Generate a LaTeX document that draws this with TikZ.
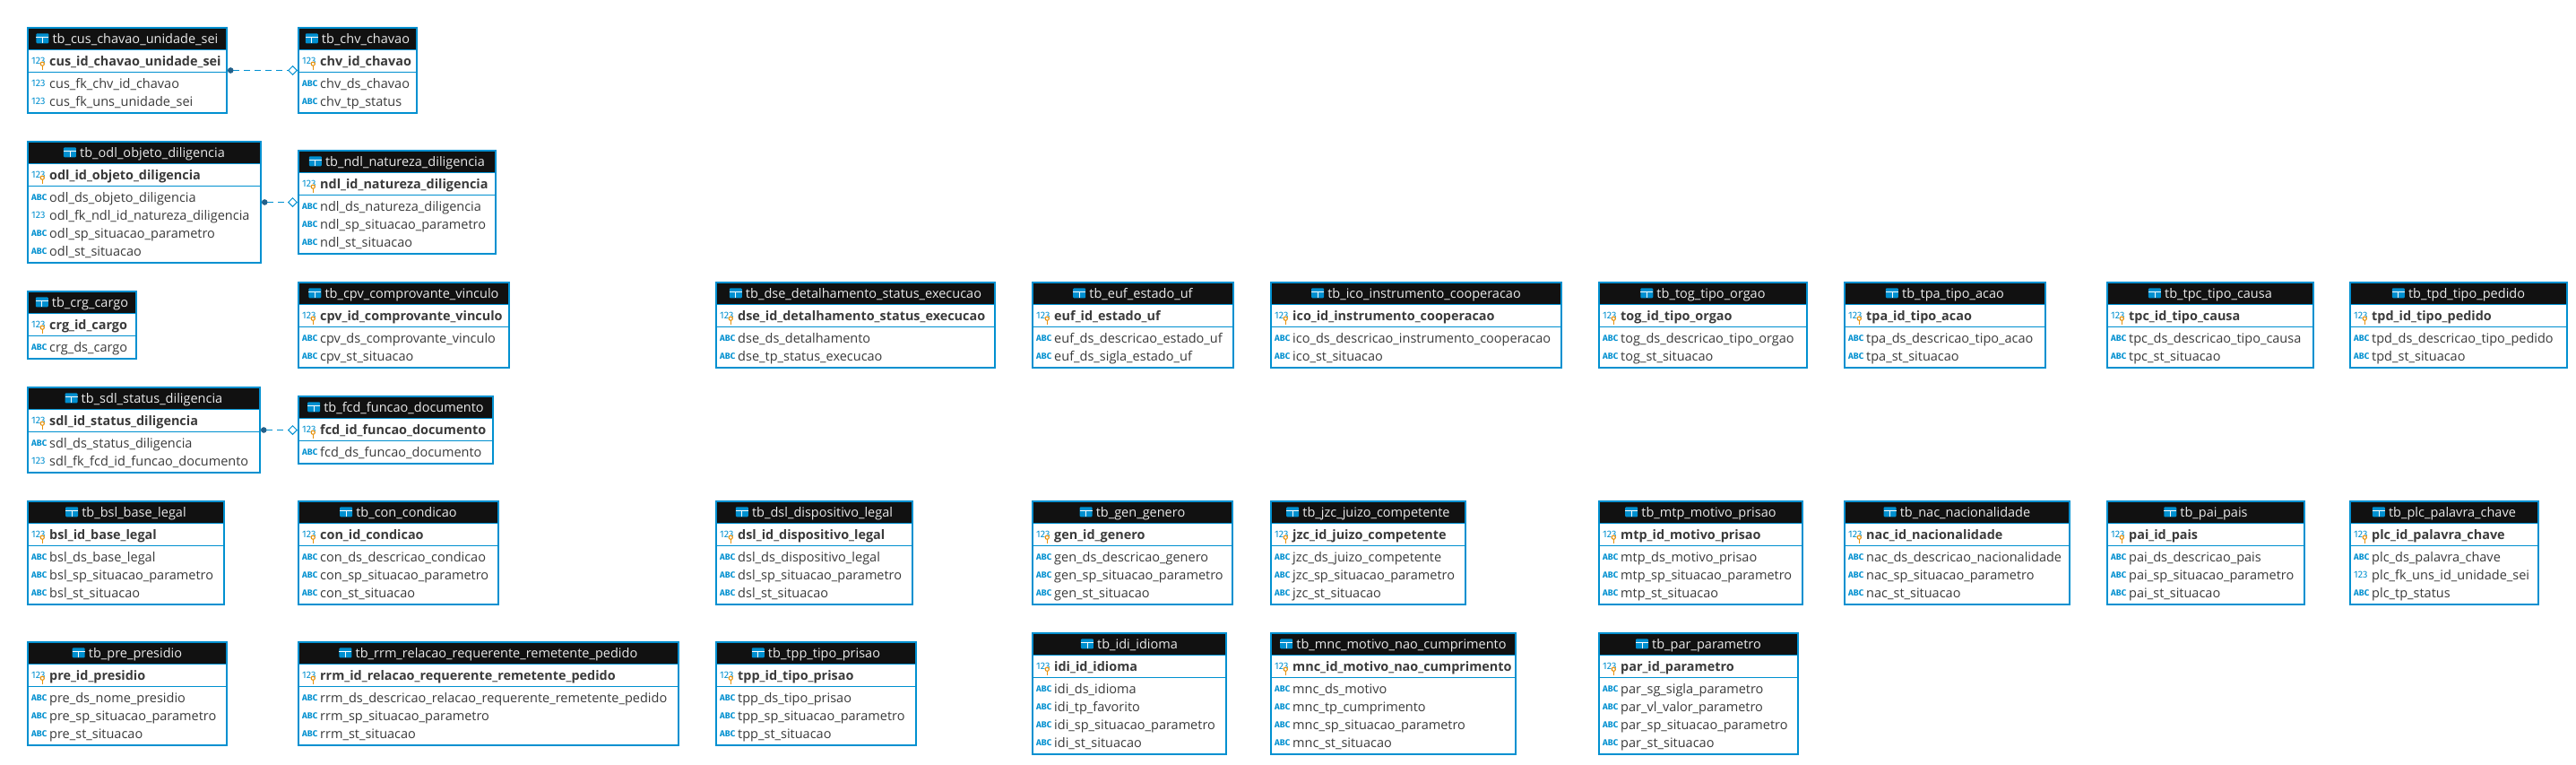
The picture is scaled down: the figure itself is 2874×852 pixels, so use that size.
\documentclass[tikz,border=0pt]{standalone}
\usepackage{fontspec}
\setmainfont{Open Sans}
\newfontfamily\tagfont{Fira Sans}
\usetikzlibrary{arrows.meta}
\definecolor{tbblue}{HTML}{0090D0}
\definecolor{tbblack}{HTML}{111111}
\definecolor{tbtext}{HTML}{3A3A3A}
\definecolor{tbdot}{HTML}{22608A}
\definecolor{tbkey}{HTML}{E8920C}
\newcommand{\coltagn}{\fontsize{10.8}{12}\tagfont\selectfont 123}
\newcommand{\coltaga}{\fontsize{9.6}{12}\tagfont\selectfont\bfseries ABC}
\tikzset{
 tbframe/.style={draw=tbblue, fill=white, line width=2pt, anchor=north west, inner sep=0, outer sep=1pt},
 tbtitle/.style={text=white!92!black, font=\fontsize{14.5}{16}\selectfont, anchor=base, inner sep=0},
 tbpk/.style={text=tbtext, font=\fontsize{14.4}{16}\selectfont\bfseries, anchor=base west, inner sep=0},
 tbcol/.style={text=tbtext, font=\fontsize{14.5}{16}\selectfont, anchor=base west, inner sep=0},
 tbtag/.style={text=tbblue, anchor=base west, inner sep=0},
 tblink/.style={draw=tbblue, line width=1pt, dash pattern=on 7pt off 5pt,
  {Circle[length=6.5pt,color=tbdot]}-{Diamond[open,length=11pt,width=11pt,line width=1pt,color=tbblue]}},
 tbicon/.pic={
  \fill[tbblue, rounded corners=1pt] (-7,-5.5) rectangle (7,5.5);
  \draw[white, line width=.8pt] (-7,-1.5) -- (7,-1.5) (0,-1.5) -- (0,5.5);
 },
 tbbulb/.pic={
  \draw[tbkey, fill=white, line width=1.1pt] (0,-1.8) circle (2.1);
  \draw[tbkey, line width=1.1pt] (0,.3) -- (0,4.8);
 }
}
\begin{document}
\catcode`\_=12
\begin{tikzpicture}[x=1pt, y=-1pt]
\useasboundingbox (0,0) rectangle (2874,852);
\foreach \nm/\xa/\ya/\wdt/\nr/\ttl/\pk/\cols in {
 cus/30/30/224/2/tb_cus_chavao_unidade_sei/cus_id_chavao_unidade_sei/{n/cus_fk_chv_id_chavao,n/cus_fk_uns_unidade_sei},
 chv/332/30/134/2/tb_chv_chavao/chv_id_chavao/{a/chv_ds_chavao,a/chv_tp_status},
 odl/30/157/262/4/tb_odl_objeto_diligencia/odl_id_objeto_diligencia/{a/odl_ds_objeto_diligencia,n/odl_fk_ndl_id_natureza_diligencia,a/odl_sp_situacao_parametro,a/odl_st_situacao},
 ndl/332/167/222/3/tb_ndl_natureza_diligencia/ndl_id_natureza_diligencia/{a/ndl_ds_natureza_diligencia,a/ndl_sp_situacao_parametro,a/ndl_st_situacao},
 crg/30/324/123/1/tb_crg_cargo/crg_id_cargo/{a/crg_ds_cargo},
 cpv/332/314/237/2/tb_cpv_comprovante_vinculo/cpv_id_comprovante_vinculo/{a/cpv_ds_comprovante_vinculo,a/cpv_st_situacao},
 sdl/30/431/261/2/tb_sdl_status_diligencia/sdl_id_status_diligencia/{a/sdl_ds_status_diligencia,n/sdl_fk_fcd_id_funcao_documento},
 fcd/332/441/219/1/tb_fcd_funcao_documento/fcd_id_funcao_documento/{a/fcd_ds_funcao_documento},
 bsl/30/558/221/3/tb_bsl_base_legal/bsl_id_base_legal/{a/bsl_ds_base_legal,a/bsl_sp_situacao_parametro,a/bsl_st_situacao},
 con/332/558/225/3/tb_con_condicao/con_id_condicao/{a/con_ds_descricao_condicao,a/con_sp_situacao_parametro,a/con_st_situacao},
 pre/30/715/224/3/tb_pre_presidio/pre_id_presidio/{a/pre_ds_nome_presidio,a/pre_sp_situacao_parametro,a/pre_st_situacao},
 rrm/332/715/426/3/tb_rrm_relacao_requerente_remetente_pedido/rrm_id_relacao_requerente_remetente_pedido/{a/rrm_ds_descricao_relacao_requerente_remetente_pedido,a/rrm_sp_situacao_parametro,a/rrm_st_situacao},
 dse/798/314/313/2/tb_dse_detalhamento_status_execucao/dse_id_detalhamento_status_execucao/{a/dse_ds_detalhamento,a/dse_tp_status_execucao},
 euf/1151/314/226/2/tb_euf_estado_uf/euf_id_estado_uf/{a/euf_ds_descricao_estado_uf,a/euf_ds_sigla_estado_uf},
 ico/1417/314/326/2/tb_ico_instrumento_cooperacao/ico_id_instrumento_cooperacao/{a/ico_ds_descricao_instrumento_cooperacao,a/ico_st_situacao},
 dsl/798/558/221/3/tb_dsl_dispositivo_legal/dsl_id_dispositivo_legal/{a/dsl_ds_dispositivo_legal,a/dsl_sp_situacao_parametro,a/dsl_st_situacao},
 gen/1151/558/225/3/tb_gen_genero/gen_id_genero/{a/gen_ds_descricao_genero,a/gen_sp_situacao_parametro,a/gen_st_situacao},
 jzc/1417/558/219/3/tb_jzc_juizo_competente/jzc_id_juizo_competente/{a/jzc_ds_juizo_competente,a/jzc_sp_situacao_parametro,a/jzc_st_situacao},
 tpp/798/715/225/3/tb_tpp_tipo_prisao/tpp_id_tipo_prisao/{a/tpp_ds_tipo_prisao,a/tpp_sp_situacao_parametro,a/tpp_st_situacao},
 idi/1151/705/218/4/tb_idi_idioma/idi_id_idioma/{a/idi_ds_idioma,a/idi_tp_favorito,a/idi_sp_situacao_parametro,a/idi_st_situacao},
 mnc/1417/705/275/4/tb_mnc_motivo_nao_cumprimento/mnc_id_motivo_nao_cumprimento/{a/mnc_ds_motivo,a/mnc_tp_cumprimento,a/mnc_sp_situacao_parametro,a/mnc_st_situacao},
 tog/1783/314/234/2/tb_tog_tipo_orgao/tog_id_tipo_orgao/{a/tog_ds_descricao_tipo_orgao,a/tog_st_situacao},
 tpa/2057/314/226/2/tb_tpa_tipo_acao/tpa_id_tipo_acao/{a/tpa_ds_descricao_tipo_acao,a/tpa_st_situacao},
 tpc/2350/314/232/2/tb_tpc_tipo_causa/tpc_id_tipo_causa/{a/tpc_ds_descricao_tipo_causa,a/tpc_st_situacao},
 tpd/2621/314/244/2/tb_tpd_tipo_pedido/tpd_id_tipo_pedido/{a/tpd_ds_descricao_tipo_pedido,a/tpd_st_situacao},
 mtp/1783/558/229/3/tb_mtp_motivo_prisao/mtp_id_motivo_prisao/{a/mtp_ds_motivo_prisao,a/mtp_sp_situacao_parametro,a/mtp_st_situacao},
 nac/2057/558/253/3/tb_nac_nacionalidade/nac_id_nacionalidade/{a/nac_ds_descricao_nacionalidade,a/nac_sp_situacao_parametro,a/nac_st_situacao},
 pai/2350/558/222/3/tb_pai_pais/pai_id_pais/{a/pai_ds_descricao_pais,a/pai_sp_situacao_parametro,a/pai_st_situacao},
 plc/2621/558/212/3/tb_plc_palavra_chave/plc_id_palavra_chave/{a/plc_ds_palavra_chave,n/plc_fk_uns_id_unidade_sei,a/plc_tp_status},
 par/1783/705/224/4/tb_par_parametro/par_id_parametro/{a/par_sg_sigla_parametro,a/par_vl_valor_parametro,a/par_sp_situacao_parametro,a/par_st_situacao}} {
 \node[tbframe, minimum width={(\wdt-2)*1pt}, minimum height={(55+20*\nr)*1pt}] (\nm) at (\xa,\ya) {};
 \begin{scope}[shift={(\xa,\ya)}]
  \fill[tbblack] (2,2) rectangle (\wdt-2,25);
  \draw[tbblue, line width=1pt] (2,25.5) -- (\wdt-2,25.5) (2,50) -- (\wdt-2,50);
  \node[tbtitle] (\nm-t) at (\wdt/2+9,18.3) {\ttl};
  \pic at ([xshift=-11pt,yshift=5.5pt]\nm-t.base west) {tbicon};
  \node[tbtag] (\nm-k) at (5,41.5) {\coltagn};
  \pic at ([xshift=-3.5pt,yshift=-1.5pt]\nm-k.base east) {tbbulb};
  \node[tbpk] (\nm-p) at (25,43) {\pk};
  \foreach \ty/\cl [count=\i from 0] in \cols {
   \node[tbtag] (\nm-g\i) at (5,66+20*\i) {\csname coltag\ty\endcsname};
   \node[tbcol] (\nm-c\i) at (25,68+20*\i) {\cl};
  }
 \end{scope}
}
\draw[tblink] (cus.east) -- (chv.west);
\draw[tblink] (odl.east) -- (ndl.west);
\draw[tblink] (sdl.east) -- (fcd.west);
\end{tikzpicture}
\end{document}
